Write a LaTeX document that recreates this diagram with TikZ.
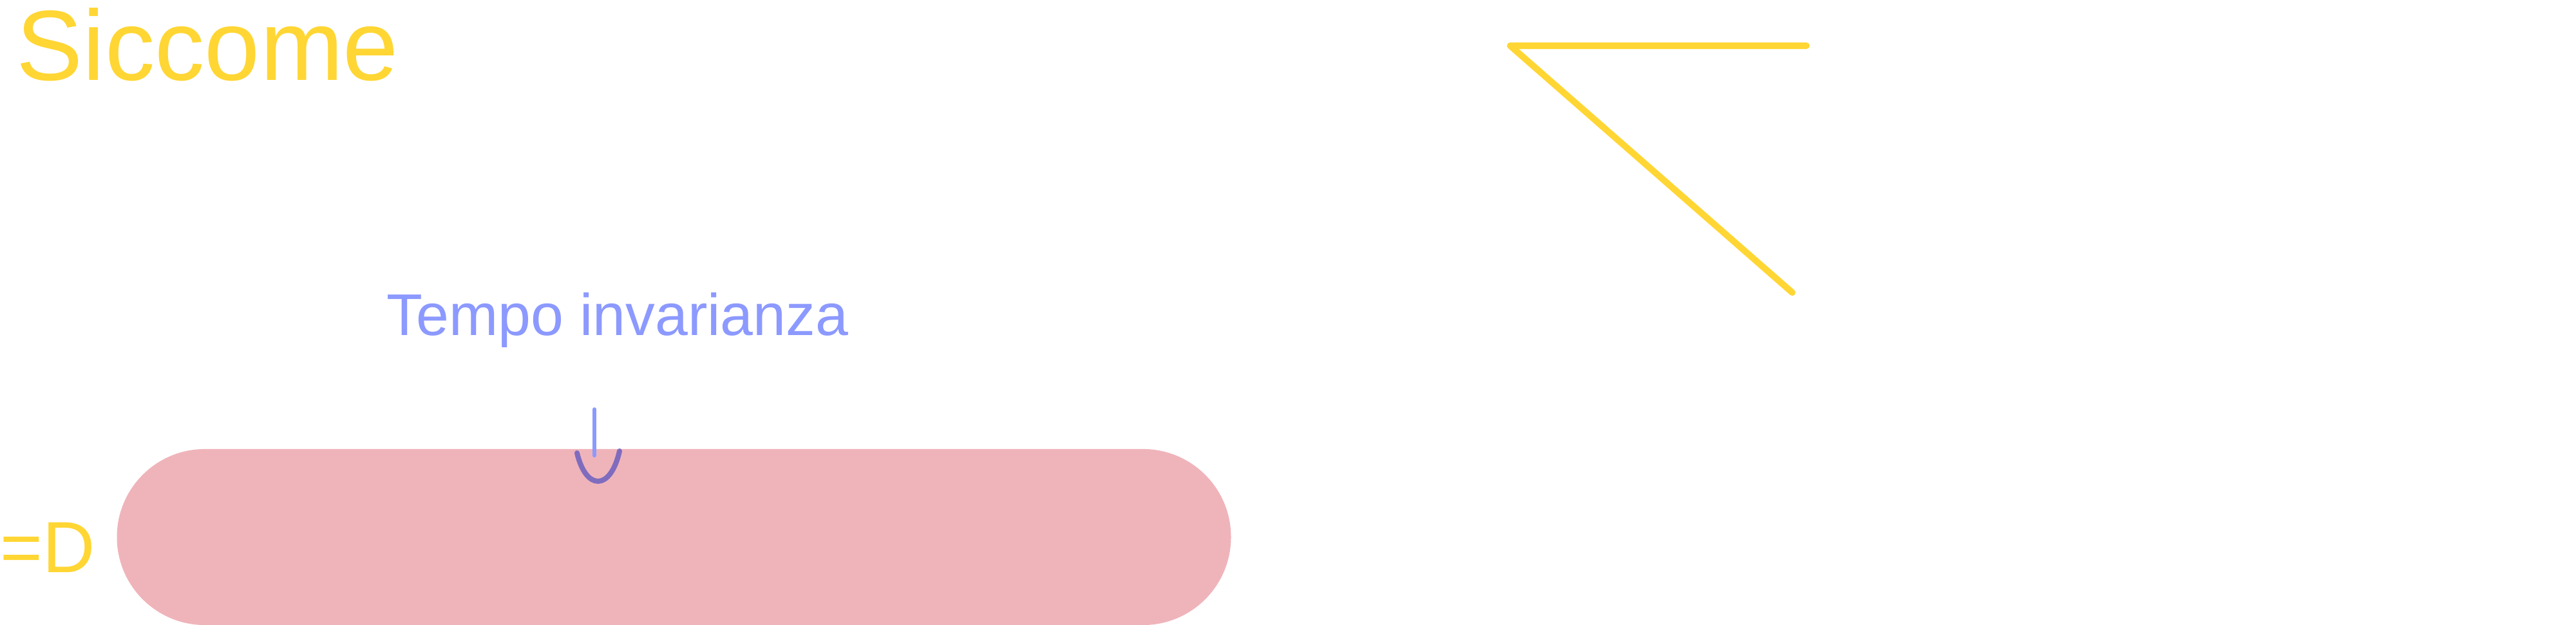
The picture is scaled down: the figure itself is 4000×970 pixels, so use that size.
\documentclass[tikz,border=0pt]{standalone}
\usepackage{fontspec}
\setmainfont{Liberation Sans}
\usetikzlibrary{shapes.misc}
\definecolor{hiyellow}{HTML}{FFD633}
\definecolor{inkblue}{HTML}{8C99FF}
\definecolor{inkpurple}{HTML}{7F6CBE}
\definecolor{barpink}{HTML}{EFB4BA}

\begin{document}
\begin{tikzpicture}[x=0.01cm, y=-0.01cm,
    yellowink/.style={draw=hiyellow, line width=0.1cm, line cap=round, line join=round},
    label/.style={anchor=base west, inner sep=0pt},
    barshape/.style={rounded rectangle, fill=barpink, minimum width=17.29cm, minimum height=2.73cm, inner sep=0pt}]
        \useasboundingbox (0,0) rectangle (4000,970);
        % The pink bar.
            \node[barshape] (bar) at (1046.5,833.5) {};
        % Below nodes are the labels.
            \node[label, text=hiyellow, font=\fontsize{44}{50}\selectfont] (siccome) at (25,125) {Siccome};
            \node[label, text=inkblue, font=\fontsize{26}{30}\selectfont] (tempo) at (600,520) {Tempo invarianza};
            \node[label, text=hiyellow, font=\fontsize{32}{36}\selectfont] (smile) at (0,888) {=D};
        % This draws the arrow into the bar.
            \coordinate (tip) at (923,707);
            \draw[inkblue, line width=0.06cm, line cap=round, shorten <=0.955cm] (tempo.south -| tip) -- (tip);
            \draw[inkpurple, line width=0.08cm, line cap=round] (896,703) .. controls (910,762) and (948,762) .. (962,700);
        % The yellow angle on the right.
            \draw[yellowink] (2805,71) -- (2345,71) -- (2783,454);
\end{tikzpicture}
\end{document}
